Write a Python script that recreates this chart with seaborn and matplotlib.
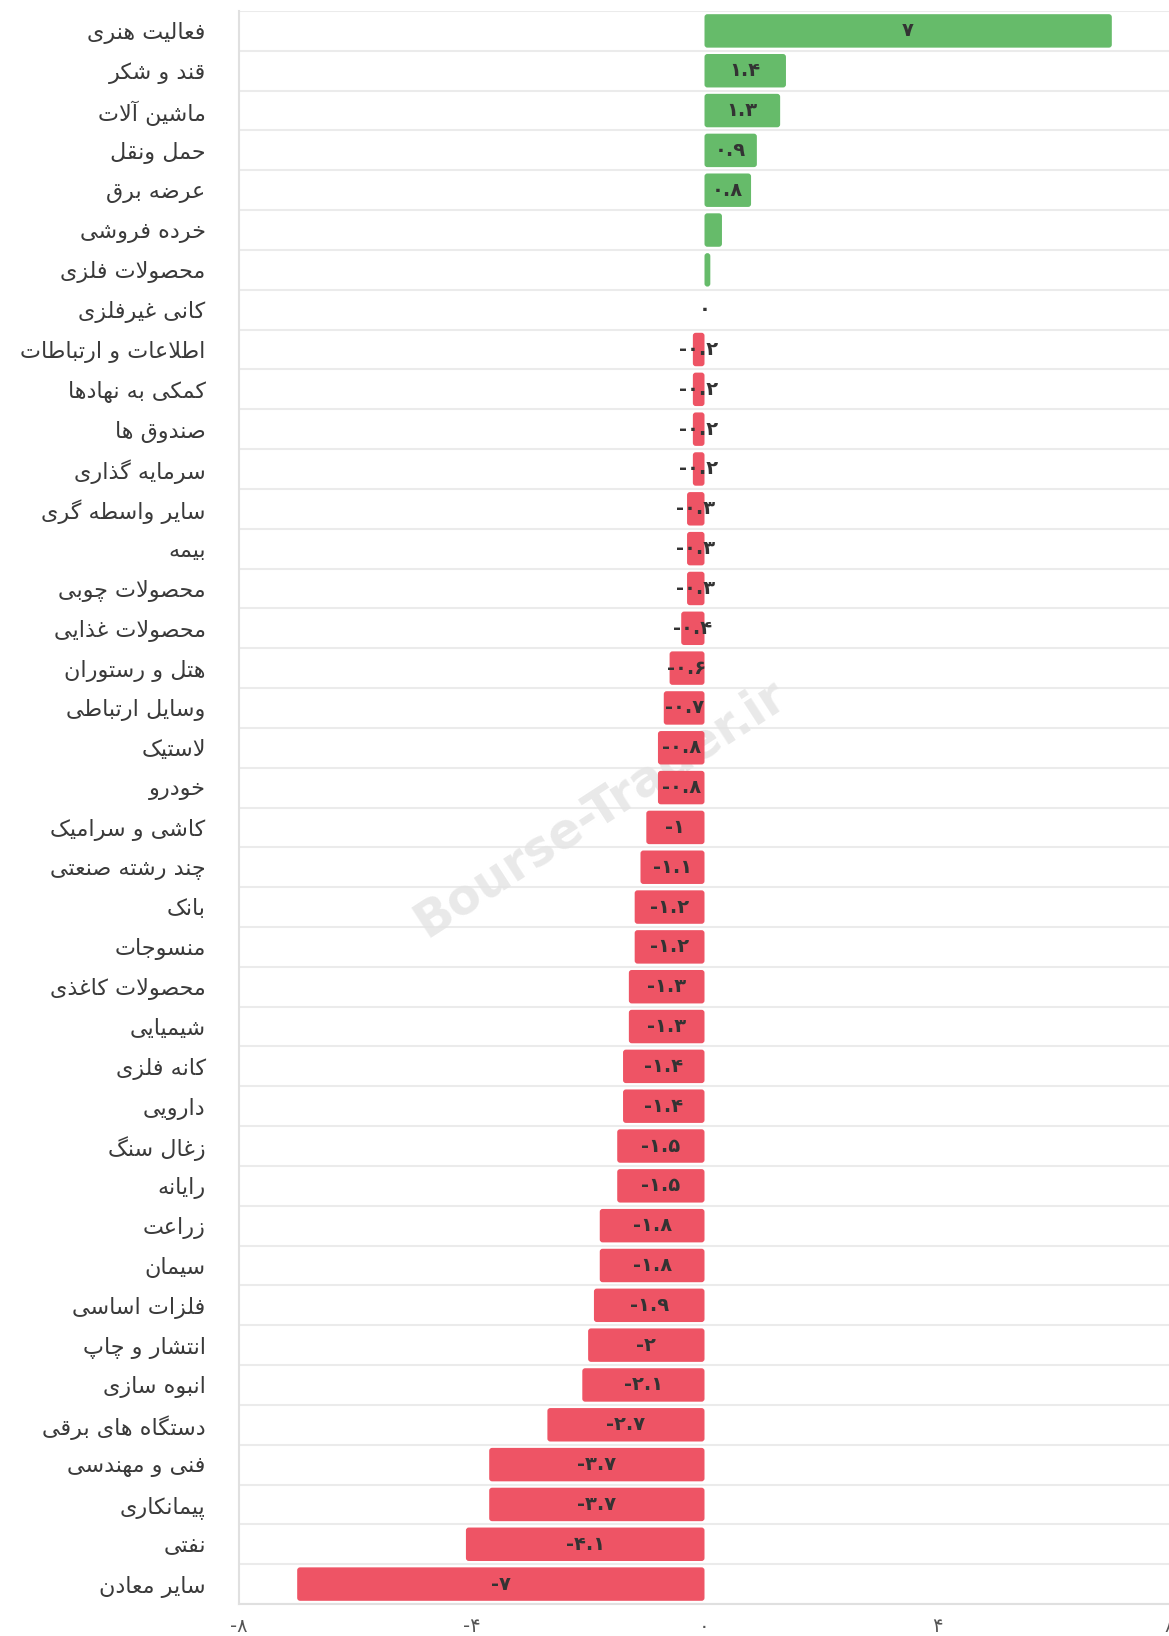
import numpy as np
import pandas as pd
import matplotlib
matplotlib.use('Agg')
import matplotlib.pyplot as plt
from matplotlib.patches import FancyBboxPatch
import seaborn as sns

# industry groups, top to bottom
industries = [
    'فعالیت هنری', 'قند و شکر', 'ماشین آلات', 'حمل ونقل', 'عرضه برق',
    'خرده فروشی', 'محصولات فلزی', 'کانی غیرفلزی', 'اطلاعات و ارتباطات', 'کمکی به نهادها',
    'صندوق ها', 'سرمایه گذاری', 'سایر واسطه گری', 'بیمه', 'محصولات چوبی',
    'محصولات غذایی', 'هتل و رستوران', 'وسایل ارتباطی', 'لاستیک', 'خودرو',
    'کاشی و سرامیک', 'چند رشته صنعتی', 'بانک', 'منسوجات', 'محصولات کاغذی',
    'شیمیایی', 'کانه فلزی', 'دارویی', 'زغال سنگ', 'رایانه',
    'زراعت', 'سیمان', 'فلزات اساسی', 'انتشار و چاپ', 'انبوه سازی',
    'دستگاه های برقی', 'فنی و مهندسی', 'پیمانکاری', 'نفتی', 'سایر معادن',
]
changes = [
    7, 1.4, 1.3, 0.9, 0.8,
    0.3, 0.1, 0, -0.2, -0.2,
    -0.2, -0.2, -0.3, -0.3, -0.3,
    -0.4, -0.6, -0.7, -0.8, -0.8,
    -1, -1.1, -1.2, -1.2, -1.3,
    -1.3, -1.4, -1.4, -1.5, -1.5,
    -1.8, -1.8, -1.9, -2, -2.1,
    -2.7, -3.7, -3.7, -4.1, -7,
]
# bars whose value label is not shown in the source
no_label = ['خرده فروشی', 'محصولات فلزی']
x_ticks = [-8, -4, 0, 4, 8]

GREEN = '#66bb6a'
RED = '#ee5465'

# --- minimal arabic/persian shaping (matplotlib has no bidi/shaping) ---
# isolated, final, initial, medial
FORMS = {
    'ا': ('\ufe8d', '\ufe8e', None, None),
    'آ': ('\ufe81', '\ufe82', None, None),
    'ب': ('\ufe8f', '\ufe90', '\ufe91', '\ufe92'),
    'پ': ('\ufb56', '\ufb57', '\ufb58', '\ufb59'),
    'ت': ('\ufe95', '\ufe96', '\ufe97', '\ufe98'),
    'ث': ('\ufe99', '\ufe9a', '\ufe9b', '\ufe9c'),
    'ج': ('\ufe9d', '\ufe9e', '\ufe9f', '\ufea0'),
    'چ': ('\ufb7a', '\ufb7b', '\ufb7c', '\ufb7d'),
    'ح': ('\ufea1', '\ufea2', '\ufea3', '\ufea4'),
    'خ': ('\ufea5', '\ufea6', '\ufea7', '\ufea8'),
    'د': ('\ufea9', '\ufeaa', None, None),
    'ذ': ('\ufeab', '\ufeac', None, None),
    'ر': ('\ufead', '\ufeae', None, None),
    'ز': ('\ufeaf', '\ufeb0', None, None),
    'ژ': ('\ufb8a', '\ufb8b', None, None),
    'س': ('\ufeb1', '\ufeb2', '\ufeb3', '\ufeb4'),
    'ش': ('\ufeb5', '\ufeb6', '\ufeb7', '\ufeb8'),
    'ص': ('\ufeb9', '\ufeba', '\ufebb', '\ufebc'),
    'ض': ('\ufebd', '\ufebe', '\ufebf', '\ufec0'),
    'ط': ('\ufec1', '\ufec2', '\ufec3', '\ufec4'),
    'ظ': ('\ufec5', '\ufec6', '\ufec7', '\ufec8'),
    'ع': ('\ufec9', '\ufeca', '\ufecb', '\ufecc'),
    'غ': ('\ufecd', '\ufece', '\ufecf', '\ufed0'),
    'ف': ('\ufed1', '\ufed2', '\ufed3', '\ufed4'),
    'ق': ('\ufed5', '\ufed6', '\ufed7', '\ufed8'),
    'ک': ('\ufb8e', '\ufb8f', '\ufb90', '\ufb91'),
    'گ': ('\ufb92', '\ufb93', '\ufb94', '\ufb95'),
    'ل': ('\ufedd', '\ufede', '\ufedf', '\ufee0'),
    'م': ('\ufee1', '\ufee2', '\ufee3', '\ufee4'),
    'ن': ('\ufee5', '\ufee6', '\ufee7', '\ufee8'),
    'و': ('\ufeed', '\ufeee', None, None),
    'ه': ('\ufee9', '\ufeea', '\ufeeb', '\ufeec'),
    'ی': ('\ufbfc', '\ufbfd', '\ufbfe', '\ufbff'),
}
LAM_ALEF = {'ا': ('\ufefb', '\ufefc'), 'آ': ('\ufef5', '\ufef6')}


def shape(text):
    out = []
    i = 0
    prev_joins = False
    while i < len(text):
        c = text[i]
        nxt = text[i + 1] if i + 1 < len(text) else ''
        if c == 'ل' and nxt in LAM_ALEF:
            out.append(LAM_ALEF[nxt][1 if prev_joins else 0])
            prev_joins = False
            i += 2
            continue
        if c not in FORMS:
            out.append(c)
            prev_joins = False
            i += 1
            continue
        iso, fin, ini, med = FORMS[c]
        next_joins = ini is not None and nxt in FORMS
        if prev_joins and next_joins:
            out.append(med)
        elif prev_joins:
            out.append(fin)
        elif next_joins:
            out.append(ini)
        else:
            out.append(iso)
        prev_joins = ini is not None
        i += 1
    return ''.join(reversed(out))


FA_DIGITS = str.maketrans('0123456789', '۰۱۲۳۴۵۶۷۸۹')


def fa_num(v):
    return f'{v:g}'.translate(FA_DIGITS)


df = pd.DataFrame({'industry': [shape(s) for s in industries], 'change': changes})
df['sign'] = np.where(df['change'] >= 0, 'pos', 'neg')

sns.set_style('white')
plt.rcParams['font.family'] = ['DejaVu Sans']

fig = plt.figure(figsize=(11.69, 16.36), dpi=100)
ax = fig.add_axes([239 / 1169, 1 - 1604 / 1636, (1170 - 239) / 1169, (1604 - 11) / 1636])

sns.barplot(data=df, y='industry', x='change', hue='sign', palette={'pos': GREEN, 'neg': RED},
            orient='h', width=0.84, saturation=1, legend=False, ax=ax)

# swap the plain bars for slightly rounded ones
for p in list(ax.patches):
    w = p.get_width()
    if abs(w) < 1e-9:
        p.remove()
        continue
    x0, y0, h = p.get_x(), p.get_y(), p.get_height()
    if w < 0:
        x0, w = x0 + w, -w
    r = min(0.05, w / 2)
    rb = FancyBboxPatch((x0, y0), w, h, boxstyle=f'round,pad=0,rounding_size={r}',
                        mutation_aspect=1.45, facecolor=p.get_facecolor(), edgecolor='none', zorder=2)
    p.remove()
    ax.add_patch(rb)

# row separators
for k in range(len(df) + 1):
    ax.axhline(k - 0.5, color='#ebebeb', lw=1.5, zorder=0)

for i, (name, v) in enumerate(zip(industries, changes)):
    if name in no_label:
        continue
    ax.text(v / 2, i, fa_num(v), ha='center', va='center', fontsize=14, fontweight='bold',
            color='#333333', zorder=3)

# watermark
ax.text(0.388, 0.50, 'Bourse-Trader.ir', transform=ax.transAxes, rotation=33, fontsize=35,
        fontweight='bold', color='#e4e4e4', alpha=0.8, ha='center', va='center', zorder=0)

ax.set_xlim(-8, 8)
ax.set_ylim(len(df) - 0.5, -0.5)
ax.set_xticks(x_ticks)
ax.set_xticklabels([fa_num(t) for t in x_ticks], fontsize=14, color='#555555')
ax.tick_params(axis='x', length=7, color='#dddddd', width=1.2, pad=2)
ax.tick_params(axis='y', length=0, pad=24, labelsize=16, labelcolor='#3a3a3a')
ax.set_xlabel('')
ax.set_ylabel('')
for side in ['top', 'right']:
    ax.spines[side].set_visible(False)
ax.spines['left'].set_color('#e0e0e0')
ax.spines['bottom'].set_color('#e0e0e0')
ax.spines['left'].set_linewidth(1.5)
ax.spines['bottom'].set_linewidth(1.5)

fig.savefig('out.png', dpi=100)
